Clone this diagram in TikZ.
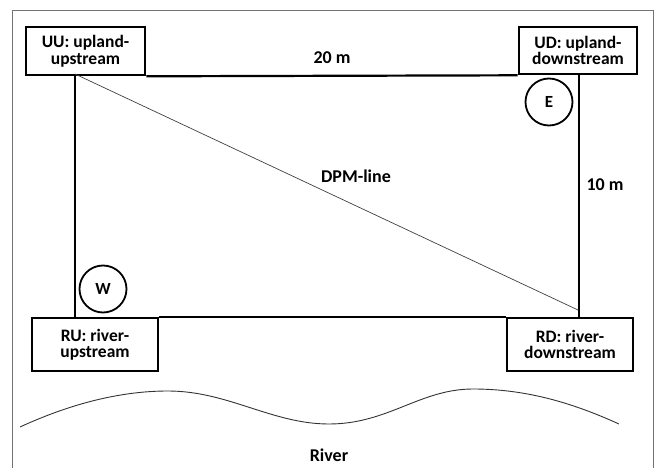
\documentclass[tikz,border=0pt]{standalone}
\usepackage{fontspec}
\setmainfont{Carlito}
\begin{document}
\begin{tikzpicture}[x=1pt,y=-1pt,
  lbl/.style={font=\fontsize{18}{16.5}\selectfont\bfseries, inner sep=0pt, anchor=base},
  site/.style={draw, line width=2.6pt, align=center, inner sep=0pt,
    font=\fontsize{17.5}{16.5}\selectfont\bfseries},
  plot/.style={line width=2.2pt},
  probe/.style={draw, circle, line width=1.8pt, inner sep=0pt,
    font=\fontsize{17}{17}\selectfont\bfseries},
  diag/.style={line width=0.7pt, black!75}]
\useasboundingbox (0,0) rectangle (657,468);
% outer frame
\draw[line width=1pt, black!55] (12,470) -- (12,11) -- (653,11) -- (653,470);
% site boxes
\node[site, minimum width=119pt, minimum height=48pt] (UU) at (85.5,51) {UU: upland-\\upstream};
\node[site, minimum width=118pt, minimum height=47pt] (UD) at (578,50.5) {UD: upland-\\downstream};
\node[site, minimum width=126pt, minimum height=53pt] (RU) at (95,344.5) {RU: river-\\upstream};
\node[site, minimum width=126pt, minimum height=53pt] (RD) at (570,344.5) {RD: river-\\downstream};
% plot corners
\coordinate (tl) at (75,74);
\coordinate (tr) at (579,74);
\coordinate (bl) at (75,318);
\coordinate (br) at (579,318);
\coordinate (dend) at (578,310);
% plot lines
\draw[plot] (UU.south east) -- (UD.south west);
\draw[plot] (RU.north east) -- (RD.north west);
\draw[plot] (tl) -- (bl);
\draw[plot] (tr) -- (br);
\draw[diag] (tl) -- (dend);
% probes
\node[probe, minimum size=47pt] (E) at (549,102) {E};
\node[probe, minimum size=47pt] (W) at (103,289) {W};
% labels
\node[lbl] (len20) at (332,64) {20 m};
\node[lbl] (len10) at (605,191) {10 m};
\node[lbl] (dpm) at (356,183) {DPM-line};
\node[lbl] (river) at (329,461) {River};
% river bank
\draw[line width=0.9pt, black!80] (20,427) .. controls (70,404) and (120,391) .. (168,391)
  .. controls (228,391) and (272,424) .. (329,424)
  .. controls (388,424) and (420,389) .. (473,389)
  .. controls (528,389) and (575,404) .. (619,424);
\end{tikzpicture}
\end{document}
